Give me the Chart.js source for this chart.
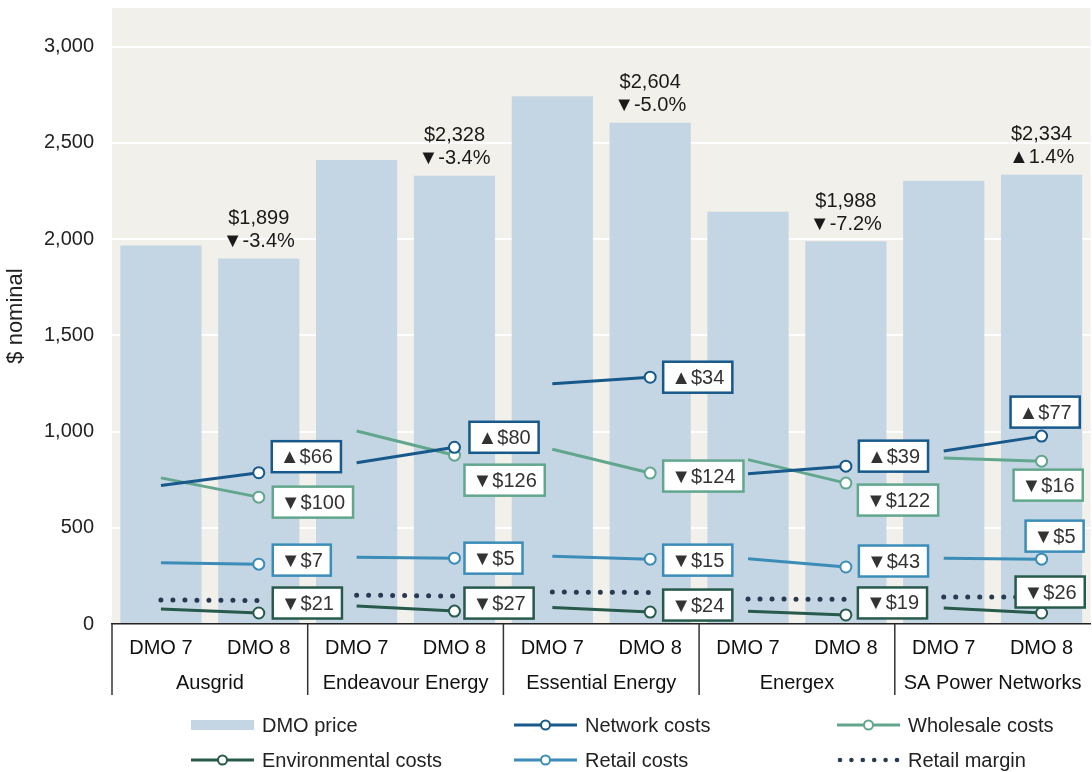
<!DOCTYPE html>
<html lang="en">
<head>
    <meta charset="UTF-8">
    <title>DMO price and cost components</title>
    <script src="https://cdn.jsdelivr.net/npm/chart.js"></script>
    <style>
        html, body {
            margin: 0;
            padding: 0;
            background: #ffffff;
            overflow: hidden;
        }
        #box {
            width: 1098px;
            height: 772px;
        }
    </style>
</head>
<body>

<div id="box"><canvas id="grafico"></canvas></div>

<script>
// categorie e reti
const categories = ['DMO 7', 'DMO 8', 'DMO 7', 'DMO 8', 'DMO 7', 'DMO 8', 'DMO 7', 'DMO 8', 'DMO 7', 'DMO 8'];
const networks = ['Ausgrid', 'Endeavour Energy', 'Essential Energy', 'Energex', 'SA Power Networks'];
const yTicks = [0, 500, 1000, 1500, 2000, 2500, 3000];

// valori
const dmoPrice = [1966, 1899, 2410, 2328, 2741, 2604, 2142, 1988, 2302, 2334];
const priceChange = [-3.4, -3.4, -5.0, -7.2, 1.4];

const networkCosts = [720, 786, 838, 918, 1248, 1282, 781, 820, 899, 976];
const wholesaleCosts = [759, 659, 1003, 877, 908, 784, 854, 732, 862, 846];
const retailCosts = [318, 311, 347, 342, 352, 337, 339, 296, 342, 337];
const environmentalCosts = [78, 57, 94, 67, 86, 62, 66, 47, 83, 57];
const retailMargin = [125, 122, 150, 145, 166, 164, 130, 128, 140, 140];

const networkChange = [66, 80, 34, 39, 77];
const wholesaleChange = [-100, -126, -124, -122, -16];
const retailChange = [-7, -5, -15, -43, -5];
const environmentalChange = [-21, -27, -24, -19, -26];

// colori
const cBar = '#c4d6e3';
const cNetwork = '#17598a';
const cWholesale = '#62a78d';
const cRetail = '#3b8db8';
const cEnv = '#285a4c';
const cMargin = '#273a52';
const cPlot = '#f1f0eb';

// spostamento delle etichette (px) rispetto al punto DMO 8: [dx bordo sinistro, dy centro]
const labelOffsets = {
    network:  [[13, -16], [15, -10], [13, 0], [13, -10], [-31, -24]],
    wholesale:[[14, 5], [10, 25], [13, 3], [12, 17], [-28, 24]],
    retail:   [[14, -4], [10, 0], [13, 1], [13, -6], [-16, -23]],
    env:      [[14, -10], [10, -8], [13, -7], [12, -12], [-26, -21]]
};

const FONT = '"Liberation Sans", Arial, sans-serif';
Chart.defaults.font.family = FONT;
Chart.defaults.font.size = 20;
Chart.defaults.color = '#222';

function soloDMO8(ctx) {
    return ctx.dataIndex % 2 === 1 ? 5.5 : 0;
}
function segmento(colore) {
    return {
        borderColor: ctx => ctx.p0DataIndex % 2 === 1 ? 'rgba(0,0,0,0)' : colore
    };
}
function lineaCosto(label, data, colore, chiave, variazioni) {
    return {
        type: 'line',
        label: label,
        data: data,
        borderColor: colore,
        borderWidth: 3,
        segment: segmento(colore),
        pointRadius: soloDMO8,
        pointHoverRadius: soloDMO8,
        pointBackgroundColor: '#ffffff',
        pointBorderColor: colore,
        pointBorderWidth: 2,
        tension: 0,
        order: 1,
        chiave: chiave,
        variazioni: variazioni
    };
}

// sfondo area del grafico
const sfondoPlugin = {
    id: 'sfondo',
    beforeDraw(chart) {
        const a = chart.chartArea;
        const c = chart.ctx;
        c.save();
        c.fillStyle = cPlot;
        c.fillRect(a.left, a.top, a.right - a.left, a.bottom - a.top);
        c.restore();
    }
};

// etichette: prezzi sopra le barre, riquadri con le variazioni, tabella asse x e legenda
const etichettePlugin = {
    id: 'etichette',
    afterDatasetsDraw(chart) {
        const c = chart.ctx;
        c.save();
        c.font = '20px ' + FONT;
        c.textBaseline = 'middle';

        // prezzo DMO 8
        const barMeta = chart.getDatasetMeta(0);
        c.textAlign = 'center';
        c.fillStyle = '#1a1a1a';
        for (let g = 0; g < networks.length; g++) {
            const bar = barMeta.data[g * 2 + 1];
            const v = dmoPrice[g * 2 + 1];
            const p = priceChange[g];
            c.fillText('$' + v.toLocaleString('en-US'), bar.x, bar.y - 40);
            c.fillText((p >= 0 ? '\u25B2' : '\u25BC') + p.toFixed(1) + '%', bar.x, bar.y - 17);
        }

        // riquadri
        c.textAlign = 'left';
        chart.data.datasets.forEach((ds, i) => {
            if (!ds.chiave) return;
            const meta = chart.getDatasetMeta(i);
            for (let g = 0; g < networks.length; g++) {
                const pt = meta.data[g * 2 + 1];
                const v = ds.variazioni[g];
                const testo = (v >= 0 ? '\u25B2' : '\u25BC') + '$' + Math.abs(v);
                const off = labelOffsets[ds.chiave][g];
                const w = c.measureText(testo).width + 16;
                const h = 31;
                const x = pt.x + off[0];
                const y = pt.y + off[1] - h / 2;
                c.fillStyle = '#ffffff';
                c.fillRect(x, y, w, h);
                c.strokeStyle = ds.borderColor;
                c.lineWidth = 2.5;
                c.strokeRect(x, y, w, h);
                c.fillStyle = '#333';
                c.fillText(testo, x + 8, y + h / 2 + 1);
            }
        });
        c.restore();
    },
    afterDraw(chart) {
        const c = chart.ctx;
        const xs = chart.scales.x;
        const a = chart.chartArea;
        const w = xs.getPixelForValue(1) - xs.getPixelForValue(0);
        c.save();

        // separatori e nomi delle reti
        c.strokeStyle = '#333';
        c.lineWidth = 1.5;
        c.font = '20px ' + FONT;
        c.fillStyle = '#111';
        c.textAlign = 'center';
        c.textBaseline = 'middle';
        for (let g = 0; g < networks.length; g++) {
            const x0 = xs.getPixelForValue(g * 2) - w / 2;
            c.beginPath();
            c.moveTo(x0, a.bottom);
            c.lineTo(x0, a.bottom + 71);
            c.stroke();
            const xc = (xs.getPixelForValue(g * 2) + xs.getPixelForValue(g * 2 + 1)) / 2;
            c.fillText(networks[g], xc, a.bottom + 59);
        }

        // legenda
        const voci = [
            { t: 'DMO price', tipo: 'bar', col: cBar },
            { t: 'Network costs', tipo: 'line', col: cNetwork },
            { t: 'Wholesale costs', tipo: 'line', col: cWholesale },
            { t: 'Environmental costs', tipo: 'line', col: cEnv },
            { t: 'Retail costs', tipo: 'line', col: cRetail },
            { t: 'Retail margin', tipo: 'dot', col: cMargin }
        ];
        const colX = [191, 514, 837];
        const rigaY = [725, 760];
        c.textAlign = 'left';
        voci.forEach((v, k) => {
            const x0 = colX[k % 3];
            const y0 = rigaY[Math.floor(k / 3)];
            if (v.tipo === 'bar') {
                c.fillStyle = v.col;
                c.fillRect(x0, y0 - 5, 63, 10);
            } else if (v.tipo === 'line') {
                c.strokeStyle = v.col;
                c.lineWidth = 3;
                c.beginPath();
                c.moveTo(x0, y0);
                c.lineTo(x0 + 63, y0);
                c.stroke();
                c.beginPath();
                c.arc(x0 + 31.5, y0, 4.5, 0, Math.PI * 2);
                c.fillStyle = '#fff';
                c.fill();
                c.lineWidth = 2;
                c.stroke();
            } else {
                c.fillStyle = v.col;
                for (let d = 0; d < 6; d++) {
                    c.beginPath();
                    c.arc(x0 + 3 + d * 11.4, y0, 2.3, 0, Math.PI * 2);
                    c.fill();
                }
            }
            c.fillStyle = '#222';
            c.fillText(v.t, x0 + 71, y0 + 1);
        });
        c.restore();
    }
};

let ctx = document.getElementById('grafico').getContext('2d');
let chart = new Chart(ctx, {
    data: {
        labels: categories,
        datasets: [
            {
                type: 'bar',
                label: 'DMO price',
                data: dmoPrice,
                backgroundColor: cBar,
                barPercentage: 0.83,
                categoryPercentage: 1.0,
                order: 10
            },
            lineaCosto('Network costs', networkCosts, cNetwork, 'network', networkChange),
            lineaCosto('Wholesale costs', wholesaleCosts, cWholesale, 'wholesale', wholesaleChange),
            lineaCosto('Environmental costs', environmentalCosts, cEnv, 'env', environmentalChange),
            lineaCosto('Retail costs', retailCosts, cRetail, 'retail', retailChange),
            {
                type: 'line',
                label: 'Retail margin',
                data: retailMargin,
                borderColor: cMargin,
                borderWidth: 5,
                borderDash: [0, 12],
                borderCapStyle: 'round',
                segment: segmento(cMargin),
                pointRadius: 0,
                pointHoverRadius: 0,
                tension: 0,
                order: 2
            }
        ]
    },
    options: {
        responsive: true,
        maintainAspectRatio: false,
        animation: false,
        layout: {
            padding: { top: 8, bottom: 78, left: 0, right: 0 }
        },
        plugins: {
            legend: { display: false },
            tooltip: { enabled: false }
        },
        scales: {
            x: {
                grid: { display: false, drawTicks: false },
                border: { display: true, color: '#222', width: 1.5 },
                ticks: { color: '#111', padding: 12, maxRotation: 0, autoSkip: false },
                afterFit(scale) {
                    scale.height = 70;
                    scale.paddingLeft = 0;
                    scale.paddingRight = 0;
                }
            },
            y: {
                min: 0,
                max: 3200,
                grid: {
                    color: c => c.tick && c.tick.value === 0 ? 'rgba(0,0,0,0)' : '#ffffff',
                    lineWidth: 2,
                    drawTicks: false
                },
                border: { display: false },
                ticks: {
                    padding: 18,
                    color: '#222',
                    callback: v => v.toLocaleString('en-US')
                },
                afterBuildTicks(scale) {
                    scale.ticks = yTicks.map(v => ({ value: v }));
                },
                title: {
                    display: true,
                    text: '$ nominal',
                    color: '#222',
                    font: { size: 22 },
                    padding: { top: 3, bottom: 0 }
                },
                afterFit(scale) {
                    scale.width = 112;
                    scale.paddingTop = 0;
                    scale.paddingBottom = 0;
                }
            }
        }
    },
    plugins: [sfondoPlugin, etichettePlugin]
});
</script>

</body>
</html>
